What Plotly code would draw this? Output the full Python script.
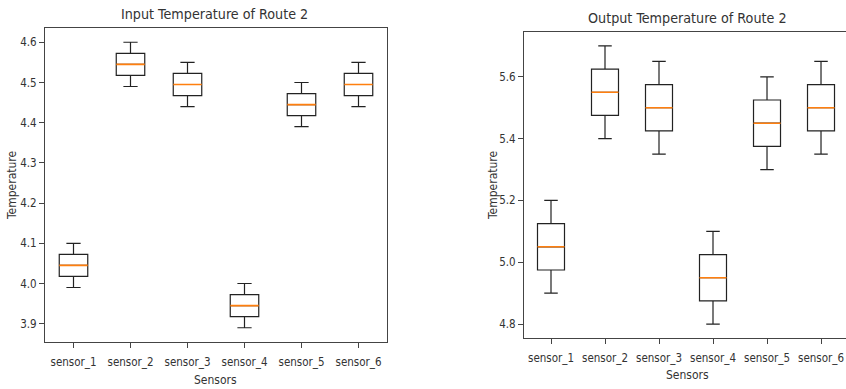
import plotly.graph_objects as go

sensors = ["sensor_1", "sensor_2", "sensor_3", "sensor_4", "sensor_5", "sensor_6"]
positions = [1, 2, 3, 4, 5, 6]

# Input temperature box statistics
in_low = [3.99, 4.49, 4.44, 3.89, 4.39, 4.44]
in_q1 = [4.0175, 4.5175, 4.4675, 3.9175, 4.4175, 4.4675]
in_med = [4.045, 4.545, 4.495, 3.945, 4.445, 4.495]
in_q3 = [4.0725, 4.5725, 4.5225, 3.9725, 4.4725, 4.5225]
in_high = [4.10, 4.60, 4.55, 4.00, 4.50, 4.55]

# Output temperature box statistics
out_low = [4.90, 5.40, 5.35, 4.80, 5.30, 5.35]
out_q1 = [4.975, 5.475, 5.425, 4.875, 5.375, 5.425]
out_med = [5.05, 5.55, 5.50, 4.95, 5.45, 5.50]
out_q3 = [5.125, 5.625, 5.575, 5.025, 5.525, 5.575]
out_high = [5.20, 5.70, 5.65, 5.10, 5.60, 5.65]

in_ticks = [3.9, 4.0, 4.1, 4.2, 4.3, 4.4, 4.5, 4.6]
out_ticks = [4.8, 5.0, 5.2, 5.4, 5.6]

W, H = 846, 389
FONT = "DejaVu Sans Condensed, DejaVu Sans, sans-serif"
TXT = "#333333"

fig = go.Figure()

def add_boxes(xa, ya, low, q1, med, q3, high):
    fig.add_trace(go.Box(
        x=positions, lowerfence=low, q1=q1, median=med, q3=q3, upperfence=high,
        xaxis=xa, yaxis=ya, width=0.5, whiskerwidth=0.5,
        line=dict(color="#222222", width=1.2), fillcolor="rgba(0,0,0,0)",
        boxpoints=False, showlegend=False, hoverinfo="skip"))
    fig.add_trace(go.Box(
        x=positions, lowerfence=med, q1=med, median=med, q3=med, upperfence=med,
        xaxis=xa, yaxis=ya, width=0.5, whiskerwidth=0,
        line=dict(color="#ff7f0e", width=1.6), fillcolor="rgba(0,0,0,0)",
        boxpoints=False, showlegend=False, hoverinfo="skip"))

add_boxes("x", "y", in_low, in_q1, in_med, in_q3, in_high)
add_boxes("x2", "y2", out_low, out_q1, out_med, out_q3, out_high)

def span(lo, hi):
    m = (hi - lo) * 0.05
    return [lo - m, hi + m]

axis_common = dict(showgrid=False, zeroline=False, showline=True, linecolor="#444444",
                   linewidth=1, ticks="outside", ticklen=5, tickcolor="#444444",
                   tickfont=dict(family=FONT, size=11.5, color=TXT))

fig.update_layout(
    width=W, height=H, margin=dict(l=0, r=0, t=0, b=0),
    paper_bgcolor="white", plot_bgcolor="white", boxmode="overlay",
    xaxis=dict(domain=[45 / W, 387 / W], range=[0.5, 6.5], tickvals=positions,
               ticktext=sensors, mirror=True, anchor="y", tickangle=0,
               ticklabelstandoff=4, **axis_common),
    yaxis=dict(domain=[1 - 342 / H, 1 - 28 / H], range=span(min(in_low), max(in_high)),
               tickvals=in_ticks, ticktext=[f"{v:.1f}" for v in in_ticks],
               mirror=True, anchor="x", **axis_common),
    xaxis2=dict(domain=[524 / W, 1.0], range=[0.5, 6.5 - 2 / 53.8], tickvals=positions,
                ticktext=sensors, mirror=True, anchor="y2", tickangle=0,
                ticklabelstandoff=4, **axis_common),
    yaxis2=dict(domain=[1 - 338 / H, 1 - 32 / H], range=span(min(out_low), max(out_high)),
                tickvals=out_ticks, ticktext=[f"{v:.1f}" for v in out_ticks],
                mirror=False, anchor="x2", **axis_common),
)

ann = [
    dict(text="Input Temperature of Route 2", x=215 / W, y=1 - 14 / H, size=14.2, angle=0),
    dict(text="Output Temperature of Route 2", x=687 / W, y=1 - 18 / H, size=14.2, angle=0),
    dict(text="Temperature", x=12 / W, y=1 - 185 / H, size=12, angle=-90),
    dict(text="Temperature", x=493 / W, y=1 - 185 / H, size=12, angle=-90),
    dict(text="Sensors", x=216 / W, y=1 - 380 / H, size=12, angle=0),
    dict(text="Sensors", x=687 / W, y=1 - 375 / H, size=12, angle=0),
]
for a in ann:
    fig.add_annotation(text=a["text"], x=a["x"], y=a["y"], xref="paper", yref="paper",
                       showarrow=False, xanchor="center", yanchor="middle",
                       textangle=a["angle"], font=dict(family=FONT, size=a["size"], color=TXT))

fig.write_html("out.html")
